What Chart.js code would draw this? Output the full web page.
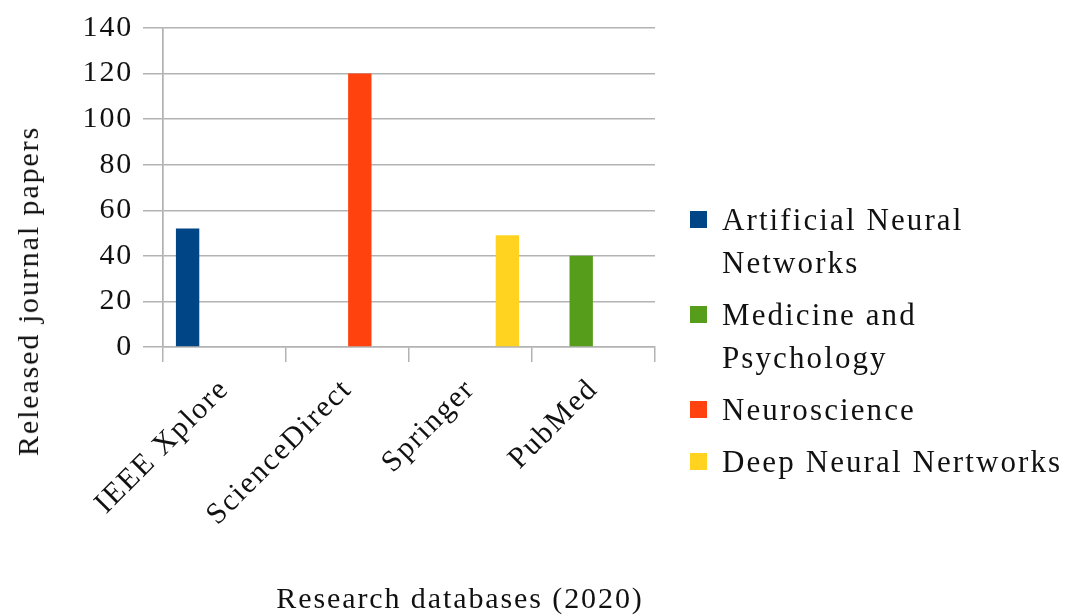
<!DOCTYPE html>
<html>
<head>
<meta charset="utf-8">
<script src="https://cdn.jsdelivr.net/npm/chart.js@4/dist/chart.umd.min.js"></script>
<style>
  body { margin: 0; background: #fff; }
  #wrap { position: relative; width: 1084px; height: 615px; font-family: "Liberation Serif", serif; color: #111; }
  #grafica { position: absolute; left: 0; top: 0; }
  #tituloY { position: absolute; left: 28px; top: 291px; transform: translate(-50%, -50%) rotate(-90deg); font-size: 30px; letter-spacing: 1.9px; white-space: nowrap; }
  #tituloX { position: absolute; left: 460px; top: 598px; transform: translate(-50%, -50%); font-size: 30px; letter-spacing: 1.9px; white-space: nowrap; }
  #leyenda { position: absolute; left: 690px; top: 198px; }
  .item { position: relative; padding-left: 32px; font-size: 31px; letter-spacing: 2.1px; line-height: 43px; margin-bottom: 9px; width: 350px; }
  .cuadro { position: absolute; left: 0; top: 13px; width: 17px; height: 17px; }
</style>
</head>
<body>
<div id="wrap">
  <canvas id="grafica" width="1084" height="615"></canvas>
  <div id="tituloY">Released journal papers</div>
  <div id="tituloX">Research databases (2020)</div>
  <div id="leyenda"></div>
</div>
<script>
// datos
const categorias = ['IEEE Xplore', 'ScienceDirect', 'Springer', 'PubMed'];
const series = ['Artificial Neural Networks', 'Medicine and Psychology', 'Neuroscience', 'Deep Neural Nertworks'];
const redesNeuronales = [52, 0, 0, 0];
const medicinaPsicologia = [0, 0, 0, 40];
const neurociencia = [0, 120, 0, 0];
const redesProfundas = [0, 0, 49, 0];
const ticksY = [0, 20, 40, 60, 80, 100, 120, 140];
const colores = ['#004586', '#579d1c', '#ff420e', '#ffd320'];

const valores = [redesNeuronales, medicinaPsicologia, neurociencia, redesProfundas];
const gris = '#b3b3b3';

// leyenda en html para poder partir las lineas
const leyenda = document.getElementById('leyenda');
series.forEach(function (nombre, i) {
    const item = document.createElement('div');
    item.className = 'item';
    item.innerHTML = '<span class="cuadro" style="background:' + colores[i] + '"></span>' + nombre;
    leyenda.appendChild(item);
});

const espaciado = {
    id: 'espaciado',
    beforeDraw: function (chart) { chart.ctx.letterSpacing = '1.8px'; }
};

const ctx = document.getElementById('grafica').getContext('2d');
const grafica = new Chart(ctx, {
    type: 'bar',
    data: {
        labels: categorias,
        datasets: series.map(function (nombre, i) {
            return {
                label: nombre,
                data: valores[i],
                backgroundColor: colores[i],
                borderWidth: 0,
                barPercentage: 0.95,
                categoryPercentage: 0.8
            };
        })
    },
    options: {
        responsive: false,
        animation: false,
        layout: { padding: { left: 0, right: 429, top: 23, bottom: 0 } },
        plugins: { legend: { display: false }, tooltip: { enabled: false } },
        scales: {
            x: {
                grid: {
                    color: function (c) { return (c.index === 0 || c.index === categorias.length) ? gris : 'transparent'; },
                    tickColor: gris,
                    tickLength: 15,
                    lineWidth: 1.5
                },
                border: { color: gris, width: 1.5 },
                ticks: {
                    minRotation: 45,
                    maxRotation: 45,
                    padding: 10,
                    color: '#111',
                    font: { family: 'Liberation Serif', size: 30 }
                },
                afterFit: function (s) { s.height = 268; }
            },
            y: {
                min: 0,
                max: 140,
                afterBuildTicks: function (s) { s.ticks = ticksY.map(function (v) { return { value: v }; }); },
                grid: { color: gris, tickColor: gris, tickLength: 20, lineWidth: 1.5 },
                border: { color: gris, width: 1.5 },
                ticks: {
                    padding: 10,
                    color: '#111',
                    font: { family: 'Liberation Serif', size: 30 }
                },
                afterFit: function (s) { s.width = 163; }
            }
        }
    },
    plugins: [espaciado]
});
</script>
</body>
</html>
